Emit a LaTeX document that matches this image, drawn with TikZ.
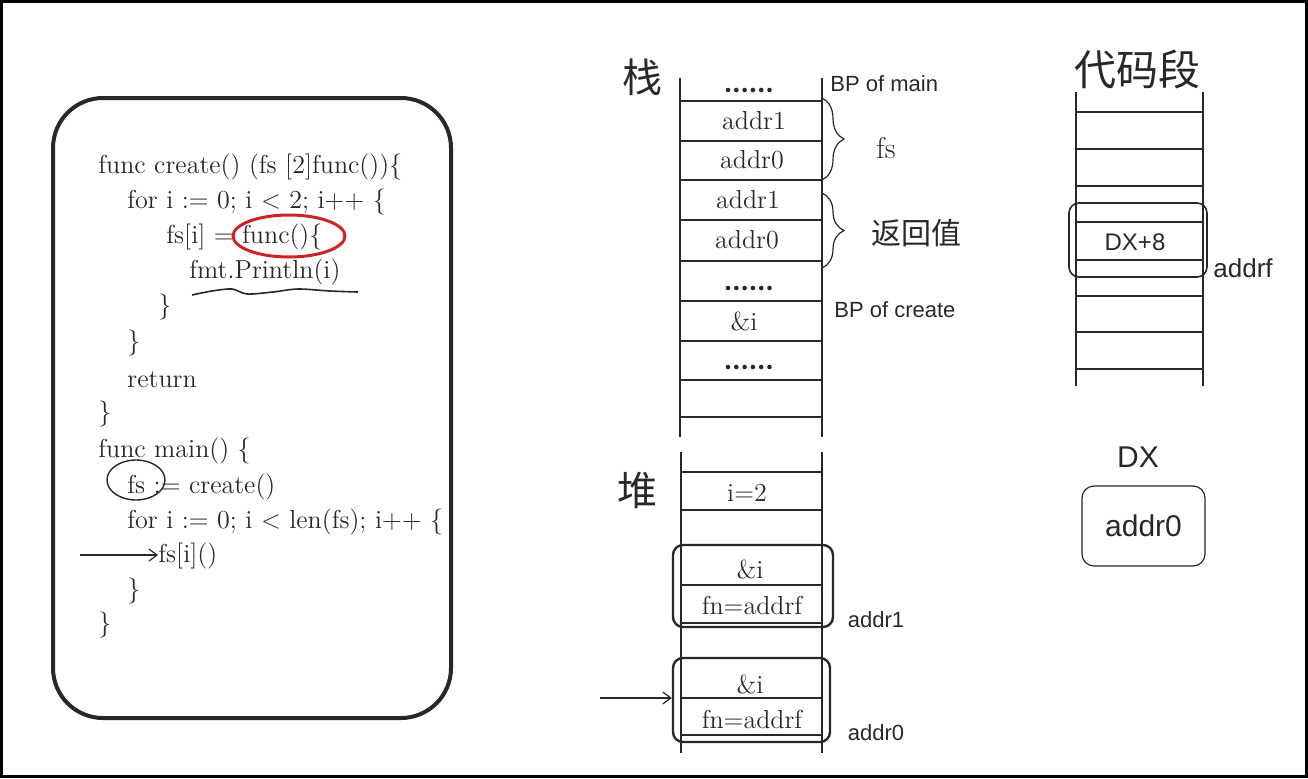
\documentclass[tikz,border=0pt]{standalone}
\usepackage{fontspec}
\setsansfont{Liberation Sans}
\newfontfamily\zhfont{Noto Sans CJK SC}
\usepackage{tikz}
\usetikzlibrary{arrows.meta}
\usetikzlibrary{calc}
\usetikzlibrary{decorations.pathreplacing}
\usetikzlibrary{positioning}
\definecolor{ink}{RGB}{40,40,40}
\definecolor{penred}{RGB}{205,35,35}

\begin{document}
\begin{tikzpicture}[x=0.5pt, y=-0.5pt, ink,
        code/.style={anchor=base west, inner sep=0pt, font=\fontsize{13}{15}\selectfont},
        cell/.style={inner sep=0pt, font=\fontsize{13}{15}\selectfont},
        hand/.style={inner sep=0pt, font=\sffamily\fontsize{11}{13}\selectfont},
        zh/.style={inner sep=0pt, font=\zhfont\fontsize{20}{24}\selectfont},
        rail/.style={line width=1pt},
        grp/.style={draw, rounded corners=5pt, line width=1.2pt, inner sep=0pt}]
    \useasboundingbox (0,0) rectangle (1308,778);
    \draw[black, line width=1.5pt] (1.5,1.5) rectangle (1306.5,776.5);

    % code panel
    \node[draw, rounded corners=25pt, line width=2pt, minimum width=199pt, minimum height=310pt] (codebox) at (252,408) {};
    \node[code] (l1) at (98,173) {func create() (fs [2]func())\{};
    \node[code] (l2) at (127,208) {for i := 0; i < 2; i++ \{};
    \node[code] (l3) at (166,243) {fs[i] = func()\{};
    \node[code] (l4) at (189,278) {fmt.Println(i)};
    \node[code] (l5) at (158,313) {\}};
    \node[code] (l6) at (127,349) {\}};
    \node[code] (l7) at (127,387) {return};
    \node[code] (l8) at (98,420) {\}};
    \node[code] (l9) at (98,457) {func main() \{};
    \node[code] (l10) at (127,493) {fs := create()};
    \node[code] (l11) at (127,528) {for i := 0; i < len(fs); i++ \{};
    \node[code] (l12) at (158,562) {fs[i]()};
    \node[code] (l13) at (127,597) {\}};
    \node[code] (l14) at (98,631) {\}};

    \draw[penred, line width=1.5pt] (289,236) ellipse [x radius=56, y radius=21];
    \draw[line width=0.7pt] (136,480) ellipse [x radius=29, y radius=20];
    \draw[line width=0.8pt] plot[smooth] coordinates {(192,295) (212,291) (232,289) (247,294) (273,292) (298,289) (330,291) (358,292)};

    \coordinate (cin) at (80,555);
    \draw[line width=0.6pt, -{Straight Barb[length=4pt, width=6pt]}] (cin) -- (cin -| l12.west);

    % stack
    \node[zh] (zhan) at (642,77) {栈};
    \draw[rail] (680,78) -- (680,437);
    \draw[rail] (822,78) -- (822,437);
    \foreach \y in {101,141,180,220,261,301,341,380,417}
        \draw[rail] (680,\y) -- (822,\y);
    \foreach \y in {90,288,367}
        \foreach \i in {0,...,5}
            \fill (728+\i*8.3,\y) circle (2.3);
    \node[cell] (sa1) at (754,121) {addr1};
    \node[cell] (sa0) at (752,160) {addr0};
    \node[cell] (ra1) at (748,200) {addr1};
    \node[cell] (ra0) at (747,240) {addr0};
    \node[cell] (si) at (744,321) {\&i};

    \coordinate (fsa) at (822,98);
    \coordinate (fsb) at (822,180);
    \coordinate (rva) at (822,193);
    \coordinate (rvb) at (822,268);
    \draw[line width=0.6pt, decorate, decoration={brace, amplitude=11pt}] (fsa) -- (fsb);
    \draw[line width=0.6pt, decorate, decoration={brace, amplitude=11pt}] (rva) -- (rvb);
    \node[cell, font=\fontsize{15}{17}\selectfont] (fslbl) at (886,148) {fs};
    \node[zh, font=\zhfont\fontsize{15}{18}\selectfont] (retlbl) at (916,233) {返回值};
    \node[hand, anchor=west] (bpmain) at (830,84) {BP of main};
    \node[hand, anchor=west] (bpcreate) at (834,310) {BP of create};

    % heap
    \node[zh] (dui) at (637,490) {堆};
    \draw[rail] (681,452) -- (681,753);
    \draw[rail] (822,452) -- (822,753);
    \foreach \y in {472,510,585,623,698,735}
        \draw[rail] (681,\y) -- (822,\y);
    \node[cell] (hi) at (747,493) {i=2};
    \node[grp, minimum width=80pt, minimum height=41pt] (box1) at (753,586) {};
    \node[grp, minimum width=78.5pt, minimum height=42pt] (box0) at (751.5,700) {};
    \node[cell] (h1i) at (750,569) {\&i};
    \node[cell] (h1f) at (752,605) {fn=addrf};
    \node[cell] (h0i) at (750,684) {\&i};
    \node[cell] (h0f) at (752,719) {fn=addrf};
    \node[hand] (hl1) at (876,620) {addr1};
    \node[hand] (hl0) at (876,733) {addr0};

    \coordinate (hin) at (600,698);
    \draw[line width=0.6pt, -{Straight Barb[length=4pt, width=6pt]}] (hin) -- (hin -| box0.west);

    % text segment
    \node[zh, font=\zhfont\fontsize{21}{25}\selectfont] (dmd) at (1137,69) {代码段};
    \draw[rail] (1076,92) -- (1076,386);
    \draw[rail] (1203,92) -- (1203,386);
    \foreach \y in {112,149,186,222,260,296,332,369}
        \draw[rail] (1076,\y) -- (1203,\y);
    \node[draw, rounded corners=5pt, line width=0.8pt, minimum width=69pt, minimum height=37pt] (fbox) at (1138,240) {};
    \node[hand, font=\sffamily\fontsize{12}{14}\selectfont] (dx8) at (1135,242) {DX+8};
    \node[hand, anchor=west, font=\sffamily\fontsize{13}{15}\selectfont] (addrf) at (1213,268) {addrf};

    % register
    \node[draw, rounded corners=6pt, line width=0.6pt, minimum width=61.5pt, minimum height=40pt, font=\sffamily\fontsize{15}{17}\selectfont] (dxreg) at (1143.5,526) {addr0};
    \node[hand, font=\sffamily\fontsize{15}{17}\selectfont] (dxlbl) at (1138,457) {DX};
\end{tikzpicture}
\end{document}
